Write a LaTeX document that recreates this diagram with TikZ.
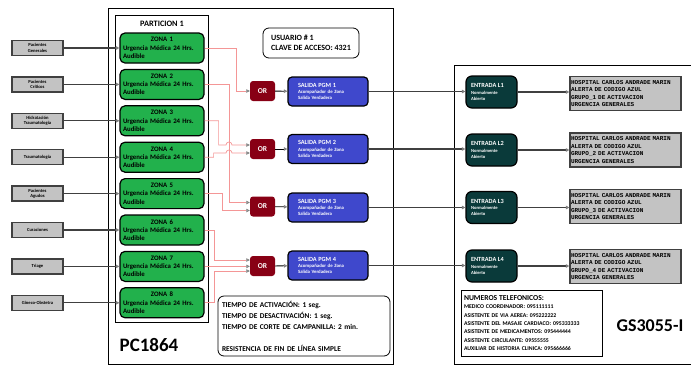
\documentclass[tikz,border=0pt]{standalone}
\usepackage{fontspec}
\setmainfont{Carlito}
\newfontfamily\msgfont{Liberation Mono}
\usetikzlibrary{arrows.meta}

\definecolor{zonagreen}{RGB}{34,177,76}
\definecolor{orred}{RGB}{136,0,21}
\definecolor{pgmblue}{RGB}{63,72,204}
\definecolor{entteal}{RGB}{10,58,58}
\definecolor{boxgray}{RGB}{195,195,195}
\definecolor{linkpink}{RGB}{244,150,150}
\definecolor{wiregray}{RGB}{64,64,64}

\newcommand{\zonatext}[1]{\makebox[78pt]{ZONA #1}\\Urgencia Médica 24 Hrs.\\Audible}
\newcommand{\pgmtext}[1]{{\fontsize{6.3}{7.5}\selectfont SALIDA PGM #1}\\Acompañador de Zona\\Salida Verdadera}
\newcommand{\enttext}[1]{{\fontsize{6.3}{7.5}\selectfont ENTRADA L#1}\\Normalmente\\Abierto}
\newcommand{\msgtext}[1]{HOSPITAL CARLOS ANDRADE MARIN\\ALERTA DE CODIGO AZUL\\GRUPO\_#1 DE ACTIVACION\\URGENCIA GENERALES}

\begin{document}
\begin{tikzpicture}[x=1pt, y=-1pt, font=\bfseries,
    inbox/.style={draw=wiregray, line width=1.3pt, fill=boxgray, minimum width=51pt,
      minimum height=15pt, inner sep=0pt, align=center, font=\fontsize{4.6}{5.4}\selectfont\bfseries},
    zona/.style={draw, line width=1.2pt, rounded corners=5pt, fill=zonagreen, text width=78pt,
      inner xsep=3pt, inner ysep=0pt, minimum height=30pt, align=left,
      font=\fontsize{6.8}{8.3}\selectfont\bfseries},
    orbox/.style={fill=orred, rounded corners=3pt, minimum width=25pt, minimum height=20pt,
      inner sep=0pt, text=white, font=\fontsize{7.5}{9}\selectfont\bfseries},
    pgm/.style={draw, line width=1.2pt, rounded corners=4pt, fill=pgmblue, text=white,
      text width=60pt, minimum height=29pt, inner xsep=10pt, inner ysep=0pt, align=left,
      font=\fontsize{4.8}{6.3}\selectfont\bfseries},
    entrada/.style={draw, line width=1.2pt, rounded corners=6pt, fill=entteal, text=white,
      text width=41pt, minimum height=32pt, inner xsep=5pt, inner ysep=0pt, align=left,
      font=\fontsize{4.6}{6.2}\selectfont\bfseries},
    msg/.style={draw=wiregray, line width=1.2pt, fill=boxgray, text width=109pt, minimum height=34pt,
      inner xsep=1pt, inner ysep=0pt, align=left, font=\fontsize{6}{7.4}\msgfont\bfseries},
    note/.style={draw, line width=0.8pt, rounded corners=6pt, align=left, inner sep=0pt},
    wire/.style={draw=wiregray, line width=1.2pt, -{Triangle[length=3.5pt,width=3.5pt,color=gray,fill=gray!50]}},
    link/.style={draw=linkpink, line width=0.7pt, -{Triangle[length=3.5pt,width=3.5pt,color=gray,fill=gray!50]}}
  ]
  \useasboundingbox (0,0) rectangle (691,365);
  \clip (0,0) rectangle (691,365);

  % Panel PC1864 and partition
  \draw[line width=0.8pt] (108,8) rectangle (393,364);
  \draw[line width=0.8pt] (115,15) rectangle (208,322);
  \node[font=\fontsize{8.3}{10}\selectfont\bfseries] (particion) at (162,24) {PARTICION 1};
  \node[font=\fontsize{19}{22}\selectfont\bfseries] (pctitle) at (149,345) {PC1864};

  % Panel GS3055-I
  \draw[line width=0.8pt] (454,65) rectangle (700,364);
  \node[font=\fontsize{18}{21}\selectfont\bfseries] (gstitle) at (650,326) {GS3055-I};

  % Inputs of the partition
  \node[inbox] (in1) at (37.5,48) {Pacientes\\Generales};
  \node[inbox] (in2) at (37.5,84.4) {Pacientes\\Críticos};
  \node[inbox] (in3) at (37.5,120.8) {Hidratación\\Traumatología};
  \node[inbox] (in4) at (37.5,157.2) {Traumatología};
  \node[inbox] (in5) at (37.5,193.6) {Pacientes\\Agudos};
  \node[inbox] (in6) at (37.5,230) {Curaciones};
  \node[inbox] (in7) at (37.5,266.4) {Triage};
  \node[inbox] (in8) at (37.5,302.8) {Gineco-Obstetra};

  % Zones
  \node[zona] (zona1) at (162,48) {\zonatext{1}};
  \node[zona] (zona2) at (162,84.4) {\zonatext{2}};
  \node[zona] (zona3) at (162,120.8) {\zonatext{3}};
  \node[zona] (zona4) at (162,157.2) {\zonatext{4}};
  \node[zona] (zona5) at (162,193.6) {\zonatext{5}};
  \node[zona] (zona6) at (162,230) {\zonatext{6}};
  \node[zona] (zona7) at (162,266.4) {\zonatext{7}};
  \node[zona] (zona8) at (162,302.8) {\zonatext{8}};

  \draw[wire] (in1) -- (zona1);
  \draw[wire] (in2) -- (zona2);
  \draw[wire] (in3) -- (zona3);
  \draw[wire] (in4) -- (zona4);
  \draw[wire] (in5) -- (zona5);
  \draw[wire] (in6) -- (zona6);
  \draw[wire] (in7) -- (zona7);
  \draw[wire] (in8) -- (zona8);

  % OR gates and PGM outputs
  \node[orbox] (or1) at (262.5,91) {OR};
  \node[orbox] (or2) at (262.5,149) {OR};
  \node[orbox] (or3) at (262.5,206.5) {OR};
  \node[orbox] (or4) at (262.5,266) {OR};

  \node[pgm] (pgm1) at (328,91.5) {\pgmtext{1}};
  \node[pgm] (pgm2) at (328,149) {\pgmtext{2}};
  \node[pgm] (pgm3) at (328,207.5) {\pgmtext{3}};
  \node[pgm] (pgm4) at (328,265.5) {\pgmtext{4}};

  \draw[wire, draw=black, line width=0.8pt] (or1) -- (pgm1);
  \draw[wire, draw=black, line width=0.8pt] (or2) -- (pgm2);
  \draw[wire, draw=black, line width=0.8pt] (or3) -- (pgm3);
  \draw[wire, draw=black, line width=0.8pt] (or4) -- (pgm4);

  % Zone to OR links
  \draw[link] (zona1.east) -- ++(32,0) |- (or1.west);
  \draw[link] (zona2.east) -- ++(25,0) |- ([yshift=4pt]or3.west);
  \draw[link] (zona3.east) -- ++(14,0) |- (226,145) arc[start angle=180, end angle=360, radius=3] -- ([yshift=4pt]or2.west);
  \draw[link] (zona4.east) -- ++(9,0) |- (226,153) arc[start angle=180, end angle=360, radius=3] -- ([yshift=-4pt]or2.west);
  \draw[link] (zona5.east) -- ++(18,0) |- ([yshift=-4pt]or3.west);
  \draw[link] (zona6.east) -- ++(10,0) |- ([yshift=6pt]or4.west);
  \draw[link] (zona7.east) -- (zona7.east -| or4.west);
  \draw[link] (zona8.east) -- ++(10,0) |- ([yshift=-5pt]or4.west);

  % Notes
  \node[note, minimum width=96pt, minimum height=30pt, font=\fontsize{8}{10.5}\selectfont\bfseries]
    (usuario) at (311,43) {USUARIO \# 1\\CLAVE DE ACCESO: 4321};
  \node[note, minimum width=172pt, minimum height=60pt, text width=164pt, font=\fontsize{7.4}{11}\selectfont\bfseries]
    (tiempos) at (304,326) {TIEMPO DE ACTIVACIÓN: 1 seg.\\TIEMPO DE DESACTIVACIÓN: 1 seg.\\TIEMPO DE CORTE DE CAMPANILLA: 2 min.\\[11pt]RESISTENCIA DE FIN DE LÍNEA SIMPLE};
  \node[draw, line width=0.8pt, minimum width=141pt, minimum height=66pt, text width=135pt, inner sep=0pt,
    align=left, font=\fontsize{5.8}{8.4}\selectfont\bfseries]
    (telefonos) at (531.5,323) {{\fontsize{7.6}{9}\selectfont NUMEROS TELEFONICOS:}\\MEDICO COORDINADOR: 095111111\\ASISTENTE DE VIA AEREA: 095222222\\ASISTENTE DEL MASAJE CARDIACO: 095333333\\ASISTENTE DE MEDICAMENTOS: 095444444\\ASISTENTE CIRCULANTE: 09555555\\AUXILIAR DE HISTORIA CLINICA: 095666666};

  % GS3055-I inputs and messages
  \node[entrada] (ent1) at (491.5,92) {\enttext{1}};
  \node[entrada] (ent2) at (491.5,150) {\enttext{2}};
  \node[entrada] (ent3) at (491.5,207.5) {\enttext{3}};
  \node[entrada] (ent4) at (491.5,266) {\enttext{4}};

  \node[msg] (msg1) at (625.5,93.5) {\msgtext{1}};
  \node[msg] (msg2) at (625.5,150) {\msgtext{2}};
  \node[msg] (msg3) at (625.5,206.5) {\msgtext{3}};
  \node[msg] (msg4) at (625.5,266.5) {\msgtext{4}};

  \draw[wire] (pgm1.east) -- (pgm1.east -| ent1.west);
  \draw[wire] (pgm2.east) -- (pgm2.east -| ent2.west);
  \draw[wire] (pgm3.east) -- (pgm3.east -| ent3.west);
  \draw[wire] (pgm4.east) -- (pgm4.east -| ent4.west);

  \draw[wire] (ent1.east) -- (ent1.east -| msg1.west);
  \draw[wire] (ent2.east) -- (ent2.east -| msg2.west);
  \draw[wire] (ent3.east) -- (ent3.east -| msg3.west);
  \draw[wire] (ent4.east) -- (ent4.east -| msg4.west);
\end{tikzpicture}
\end{document}
